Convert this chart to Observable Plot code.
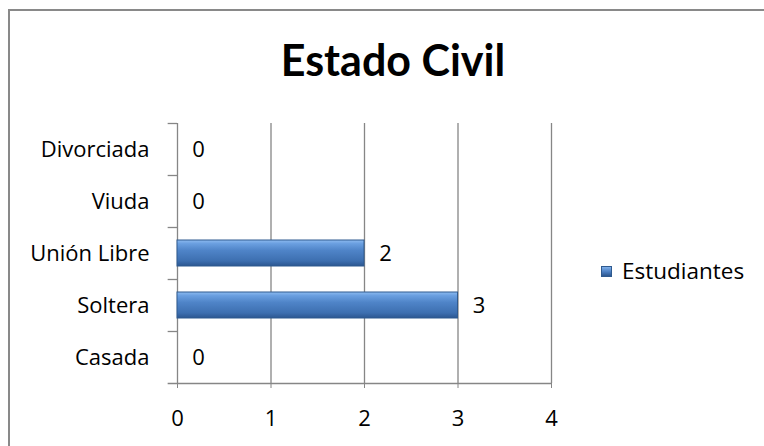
<!DOCTYPE html>
<html>
<head>
<meta charset="utf-8">
<script src="https://cdn.jsdelivr.net/npm/d3@7"></script>
<script src="https://cdn.jsdelivr.net/npm/@observablehq/plot@0.6"></script>
<style>
  html, body { margin: 0; padding: 0; background: #fff; overflow: hidden; }
  #wrap { position: relative; width: 764px; height: 446px; overflow: hidden; font-family: "Open Sans", sans-serif; }
  #border { position: absolute; left: 8px; top: 9px; width: 900px; height: 600px; border-left: 2px solid #898989; border-top: 2px solid #898989; }
  #title { position: absolute; left: 0; width: 786px; top: 32px; text-align: center; font-family: Lato, sans-serif; font-size: 43px; font-weight: bold; color: #000; line-height: 56px; }
  #chart { position: absolute; left: 0; top: 0; }
  #legend { position: absolute; left: 601px; top: 256px; font-size: 22.5px; color: #000; line-height: 30px; display: flex; align-items: center; }
  #legend .sw { width: 11px; height: 11px; margin-right: 10px; background: linear-gradient(#7fb0ea, #4a7dc0 55%, #2c568e); border: 1px solid #2f5a8f; box-sizing: border-box; }
</style>
</head>
<body>
<div id="wrap">
  <div id="border"></div>
  <div id="title">Estado Civil</div>
  <div id="chart"></div>
  <div id="legend"><span class="sw"></span><span>Estudiantes</span></div>
</div>
<script>
const categories = ["Divorciada", "Viuda", "Unión Libre", "Soltera", "Casada"];
const estudiantes = [0, 0, 2, 3, 0];
const xTicks = [0, 1, 2, 3, 4];
const seriesName = "Estudiantes";

const data = categories.map((c, i) => ({estado: c, valor: estudiantes[i]}));
const lastCat = categories[categories.length - 1];
const gray = "#868686";

const chart = Plot.plot({
  width: 764,
  height: 446,
  marginLeft: 177,
  marginRight: 213,
  marginTop: 123,
  marginBottom: 63,
  style: {fontFamily: "'Open Sans', sans-serif", fontSize: "22px", color: "#000", background: "transparent", overflow: "visible"},
  x: {domain: [0, 4], ticks: xTicks, tickSize: 5, tickPadding: 22, tickFormat: d => String(d), label: null},
  y: {domain: categories, paddingInner: 0.5, paddingOuter: 0.25, tickSize: 0, tickPadding: 28, label: null},
  marks: [
    Plot.ruleX(xTicks.filter(d => d > 0), {stroke: gray, strokeWidth: 1.3}),
    Plot.ruleX([0], {stroke: gray, strokeWidth: 1.3}),
    Plot.ruleY(categories, {y: d => d, dy: -26, x1: -0.1, x2: 0, stroke: gray, strokeWidth: 1.3}),
    Plot.ruleY([lastCat], {y: d => d, dy: 26, x1: -0.1, x2: 4, stroke: gray, strokeWidth: 1.3}),
    Plot.barX(data, {y: "estado", x: "valor", fill: "url(#barGrad)", stroke: "#2f5a8f", strokeWidth: 1}),
    Plot.text(data, {y: "estado", x: "valor", text: d => String(d.valor), dx: 21, fill: "#000", fontSize: 22, textAnchor: "middle"})
  ]
});

d3.select(chart).selectAll("[aria-label='x-axis tick'] path, [aria-label='x-axis'] path").attr("stroke", gray);

const defs = d3.select(chart).insert("defs", ":first-child");
const g = defs.append("linearGradient").attr("id", "barGrad").attr("x1", 0).attr("y1", 0).attr("x2", 0).attr("y2", 1);
[["0%", "#8dbbf0"], ["14%", "#6a9fe0"], ["40%", "#4f84c8"], ["80%", "#3d6fb0"], ["100%", "#2b5690"]].forEach(([o, c]) =>
  g.append("stop").attr("offset", o).attr("stop-color", c));

document.getElementById("chart").appendChild(chart);
</script>
</body>
</html>
